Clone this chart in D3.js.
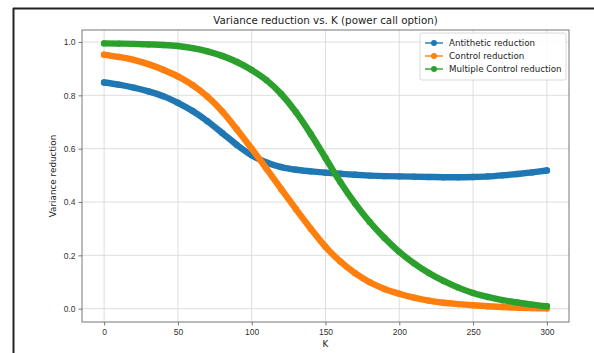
<!DOCTYPE html>
<html>
<head>
<meta charset="utf-8">
<script src="https://cdn.jsdelivr.net/npm/d3@7/dist/d3.min.js"></script>
<style>
  html, body { margin: 0; padding: 0; background: #fff; }
  svg { display: block; font-family: "DejaVu Sans", sans-serif; }
</style>
</head>
<body>
<svg id="chart" width="594" height="353"></svg>
<script>
const kValues = [0,10,20,30,40,50,60,70,80,90,100,110,120,130,140,150,160,170,180,190,200,210,220,230,240,250,260,270,280,290,300];
const antithetic = [0.848,0.840,0.829,0.815,0.797,0.772,0.741,0.703,0.659,0.614,0.575,0.548,0.531,0.521,0.515,0.510,0.506,0.502,0.499,0.497,0.496,0.495,0.494,0.493,0.493,0.494,0.496,0.500,0.505,0.511,0.518];
const control = [0.952,0.944,0.933,0.917,0.896,0.871,0.838,0.795,0.740,0.672,0.600,0.525,0.448,0.373,0.300,0.232,0.177,0.133,0.099,0.074,0.056,0.041,0.030,0.022,0.017,0.013,0.009,0.006,0.004,0.002,0.001];
const multiple = [0.995,0.994,0.993,0.991,0.989,0.985,0.977,0.965,0.948,0.925,0.895,0.857,0.805,0.737,0.655,0.565,0.475,0.395,0.325,0.265,0.213,0.170,0.134,0.104,0.079,0.059,0.044,0.032,0.023,0.015,0.009];
const seriesNames = ["Antithetic reduction","Control reduction","Multiple Control reduction"];
const seriesColors = ["#1f77b4","#ff7f0e","#2ca02c"];
const xTicks = [0,50,100,150,200,250,300];
const yTicks = [0.0,0.2,0.4,0.6,0.8,1.0];

const svg = d3.select("#chart");
const W = 594, H = 353;
const plot = {left: 82, right: 569, top: 30, bottom: 322};

// figure frame (partial border)
svg.append("line").attr("x1", 13).attr("x2", W).attr("y1", 8.5).attr("y2", 8.5)
  .attr("stroke", "#222").attr("stroke-width", 2);
svg.append("line").attr("x1", 13.5).attr("x2", 13.5).attr("y1", 8).attr("y2", H)
  .attr("stroke", "#222").attr("stroke-width", 2);

const x = d3.scaleLinear().domain([-15, 315]).range([plot.left, plot.right]);
const y = d3.scaleLinear().domain([-0.05, 1.045]).range([plot.bottom, plot.top]);

// grid
const grid = svg.append("g");
xTicks.forEach(t => grid.append("line")
  .attr("x1", x(t)).attr("x2", x(t)).attr("y1", plot.top).attr("y2", plot.bottom)
  .attr("stroke", "#d6d6d6").attr("stroke-width", 0.8));
yTicks.forEach(t => grid.append("line")
  .attr("x1", plot.left).attr("x2", plot.right).attr("y1", y(t)).attr("y2", y(t))
  .attr("stroke", "#d6d6d6").attr("stroke-width", 0.8));

// series
const seriesData = [antithetic, control, multiple];
const line = d3.line().x(d => x(d[0])).y(d => y(d[1])).curve(d3.curveMonotoneX);
seriesData.forEach((vals, i) => {
  const pts = kValues.map((k, j) => [k, vals[j]]);
  const g = svg.append("g");
  g.append("path").datum(pts).attr("d", line)
    .attr("fill", "none").attr("stroke", seriesColors[i])
    .attr("stroke-width", 6.4).attr("stroke-linecap", "round").attr("stroke-linejoin", "round");
  g.selectAll("circle").data(pts).join("circle")
    .attr("cx", d => x(d[0])).attr("cy", d => y(d[1])).attr("r", 3.2)
    .attr("fill", seriesColors[i]);
});

// axes
const xAxis = d3.axisBottom(x).tickValues(xTicks).tickSize(3.5).tickPadding(3).tickFormat(d3.format("d"));
const yAxis = d3.axisLeft(y).tickValues(yTicks).tickSize(3.5).tickPadding(3).tickFormat(d3.format(".1f"));
const gx = svg.append("g").attr("transform", `translate(0,${plot.bottom})`).call(xAxis);
const gy = svg.append("g").attr("transform", `translate(${plot.left},0)`).call(yAxis);
[gx, gy].forEach(g => {
  g.select(".domain").remove();
  g.selectAll(".tick line").attr("stroke", "#555").attr("stroke-width", 0.8);
  g.selectAll(".tick text").attr("fill", "#333").style("font-size", "8.5px");
});

// spines
svg.append("rect").attr("x", plot.left).attr("y", plot.top)
  .attr("width", plot.right - plot.left).attr("height", plot.bottom - plot.top)
  .attr("fill", "none").attr("stroke", "#777").attr("stroke-width", 1);

// title and labels
svg.append("text").attr("x", (plot.left + plot.right) / 2).attr("y", 24)
  .attr("text-anchor", "middle").attr("fill", "#222").style("font-size", "10.3px")
  .text("Variance reduction vs. K (power call option)");
svg.append("text").attr("x", (plot.left + plot.right) / 2).attr("y", 347)
  .attr("text-anchor", "middle").attr("fill", "#222").style("font-size", "8.8px").text("K");
svg.append("text").attr("transform", `translate(56,${(plot.top + plot.bottom) / 2}) rotate(-90)`)
  .attr("text-anchor", "middle").attr("fill", "#222").style("font-size", "8.8px").text("Variance reduction");

// legend
const leg = svg.append("g").attr("transform", "translate(420,33)");
leg.append("rect").attr("width", 146).attr("height", 47).attr("rx", 2)
  .attr("fill", "#fff").attr("fill-opacity", 0.85).attr("stroke", "#d0d0d0").attr("stroke-width", 0.8);
seriesNames.forEach((name, i) => {
  const yy = 10 + i * 13;
  leg.append("line").attr("x1", 5).attr("x2", 23).attr("y1", yy).attr("y2", yy)
    .attr("stroke", seriesColors[i]).attr("stroke-width", 1.4);
  leg.append("circle").attr("cx", 14).attr("cy", yy).attr("r", 3).attr("fill", seriesColors[i]);
  leg.append("text").attr("x", 29).attr("y", yy + 3).attr("fill", "#222")
    .style("font-size", "8.7px").text(name);
});
</script>
</body>
</html>
